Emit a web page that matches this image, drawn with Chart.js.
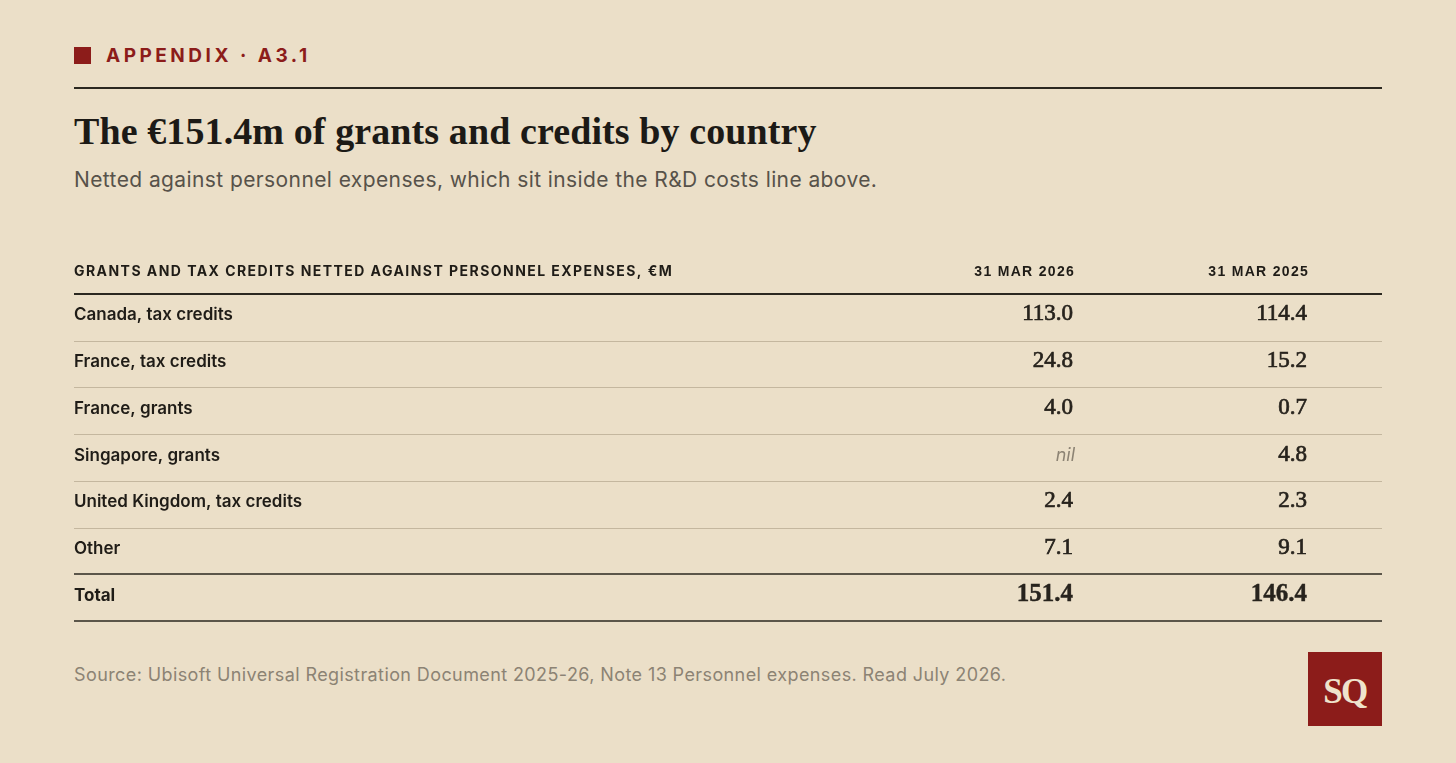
<!DOCTYPE html>
<html>
<head>
<meta charset="utf-8">
<script src="https://cdn.jsdelivr.net/npm/chart.js@4.4.1/dist/chart.umd.min.js"></script>
<style>
  html, body { margin: 0; padding: 0; }
  body {
    width: 1456px; height: 763px; overflow: hidden;
    background: #ebdfc8; position: relative;
    font-family: Inter, "Noto Sans", sans-serif;
  }
  .kicker {
    position: absolute; left: 74px; top: 43px; height: 24px;
    display: flex; align-items: center;
    color: #8c1c1a; font-weight: 700; font-size: 19px; letter-spacing: 3.5px;
  }
  .kicker .sq { width: 17px; height: 17px; background: #8c1c1a; margin-right: 15px; }
  .rule { position: absolute; left: 74px; width: 1308px; top: 87px; height: 2px; background: #2b2820; }
  h1 {
    position: absolute; left: 74px; top: 109px; margin: 0;
    font-family: "Liberation Serif", serif; font-weight: 700; font-size: 38px;
    line-height: 44px; letter-spacing: 0.1px; color: #1c1a16;
  }
  .sub {
    position: absolute; left: 74px; top: 166px; margin: 0;
    font-size: 21px; line-height: 28px; letter-spacing: 0.4px; color: #57524a;
  }
  #wrap { position: absolute; left: 0; top: 250px; width: 1456px; height: 390px; }
  .source {
    position: absolute; left: 74px; top: 662px;
    font-size: 18px; line-height: 26px; letter-spacing: 0.4px; color: #8c8374;
  }
  .logo {
    position: absolute; left: 1308px; top: 652px; width: 74px; height: 74px;
    background: #8c1c1a; color: #efe3cc;
    font-family: "Liberation Serif", serif; font-weight: 700; font-size: 35px;
    display: flex; align-items: center; justify-content: center; letter-spacing: -1.5px;
    padding-top: 6px; box-sizing: border-box;
  }
</style>
</head>
<body>
<div class="kicker"><div class="sq"></div>APPENDIX · A3.1</div>
<div class="rule"></div>
<h1>The €151.4m of grants and credits by country</h1>
<div class="sub">Netted against personnel expenses, which sit inside the R&amp;D costs line above.</div>
<div id="wrap"><canvas id="table"></canvas></div>
<div class="source">Source: Ubisoft Universal Registration Document 2025-26, Note 13 Personnel expenses. Read July 2026.</div>
<div class="logo">SQ</div>

<script>
// Table data
const rowLabels = [
    'Canada, tax credits',
    'France, tax credits',
    'France, grants',
    'Singapore, grants',
    'United Kingdom, tax credits',
    'Other',
    'Total'
];
const columnHeaders = ['31 MAR 2026', '31 MAR 2025'];
const tableTitle = 'GRANTS AND TAX CREDITS NETTED AGAINST PERSONNEL EXPENSES, €M';
const values2026 = [113.0, 24.8, 4.0, null, 2.4, 7.1, 151.4];
const values2025 = [114.4, 15.2, 0.7, 4.8, 2.3, 9.1, 146.4];

// where each column sits on the (hidden) 0..1 x scale
const labelColumn = 0;
const valueColumns = [0.7638, 0.9427];

const INK = '#1f1c17';
const RULE_DARK = '#2b2820';
const RULE_LIGHT = '#c4b79f';
const MUTED = '#8c8374';

function colData(x, vals) {
    return rowLabels.map((r, i) => ({ x: x, y: r, v: vals ? vals[i] : r }));
}

const tablePlugin = {
    id: 'tableCells',
    beforeDatasetsDraw(chart) {
        const { ctx, chartArea, scales } = chart;
        const y = scales.y;
        ctx.save();
        // header rule, row separators, total rule, bottom rule
        for (let i = 0; i <= rowLabels.length; i++) {
            const py = Math.round(y.getPixelForValue(i - 0.5));
            const dark = i === 0 || i === rowLabels.length - 1 || i === rowLabels.length;
            ctx.strokeStyle = dark ? RULE_DARK : RULE_LIGHT;
            ctx.lineWidth = dark ? (i === 0 ? 2 : 1.6) : 1;
            ctx.beginPath();
            ctx.moveTo(chartArea.left, py + (dark ? 0 : 0.5));
            ctx.lineTo(chartArea.right, py + (dark ? 0 : 0.5));
            ctx.stroke();
        }
        // column headers
        const hy = chartArea.top - 22;
        ctx.fillStyle = INK;
        ctx.textBaseline = 'middle';
        ctx.font = '700 14px Inter';
        ctx.letterSpacing = '1.45px';
        ctx.textAlign = 'left';
        ctx.fillText(tableTitle, scales.x.getPixelForValue(labelColumn), hy);
        ctx.font = '700 14px "Liberation Sans"';
        ctx.letterSpacing = '1.3px';
        ctx.textAlign = 'right';
        valueColumns.forEach((c, j) => {
            ctx.fillText(columnHeaders[j], scales.x.getPixelForValue(c) + 2, hy);
        });
        ctx.restore();
    },
    afterDatasetsDraw(chart) {
        const { ctx } = chart;
        ctx.save();
        ctx.textBaseline = 'middle';
        chart.data.datasets.forEach((ds, d) => {
            const meta = chart.getDatasetMeta(d);
            meta.data.forEach((pt, i) => {
                const raw = ds.data[i];
                const isTotal = rowLabels[i] === 'Total';
                if (d === 0) {
                    ctx.textAlign = 'left';
                    ctx.fillStyle = INK;
                    ctx.font = (isTotal ? '700' : '600') + ' 17px Inter';
                    ctx.fillText(raw.v, pt.x, pt.y - 2);
                } else {
                    ctx.textAlign = 'right';
                    if (raw.v === null) {
                        ctx.fillStyle = MUTED;
                        ctx.font = 'italic 400 18px Inter';
                        ctx.fillText('nil', pt.x + 2, pt.y - 2);
                    } else {
                        const txt = raw.v.toFixed(1);
                        ctx.fillStyle = '#27231d';
                        ctx.strokeStyle = '#27231d';
                        ctx.font = (isTotal ? '700 25px' : '400 23px') + ' "Liberation Serif"';
                        ctx.fillText(txt, pt.x, pt.y - 3);
                        // a touch of stroke to get the semibold look
                        ctx.lineWidth = isTotal ? 0.4 : 0.7;
                        ctx.strokeText(txt, pt.x, pt.y - 3);
                    }
                }
            });
        });
        ctx.restore();
    }
};

new Chart(document.getElementById('table'), {
    type: 'scatter',
    data: {
        datasets: [
            { label: 'labels', data: colData(labelColumn, null) },
            { label: columnHeaders[0], data: colData(valueColumns[0], values2026) },
            { label: columnHeaders[1], data: colData(valueColumns[1], values2025) }
        ]
    },
    options: {
        responsive: true,
        maintainAspectRatio: false,
        animation: false,
        events: [],
        layout: { padding: { left: 74, right: 74, top: 44, bottom: 19 } },
        elements: { point: { radius: 0, hoverRadius: 0 } },
        plugins: { legend: { display: false }, tooltip: { enabled: false } },
        scales: {
            x: { type: 'linear', min: 0, max: 1, display: false },
            y: { type: 'category', labels: rowLabels, offset: true, display: false }
        }
    },
    plugins: [tablePlugin]
});
</script>
</body>
</html>
